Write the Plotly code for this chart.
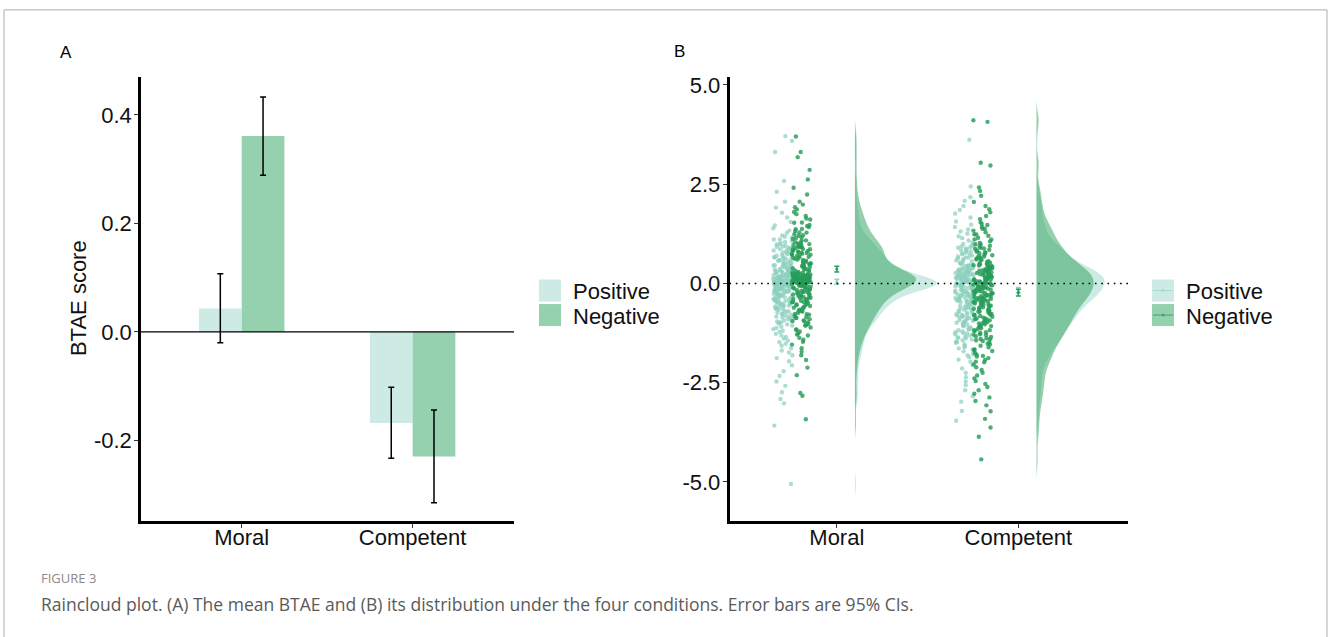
import math
import plotly.graph_objects as go

# ---------------- data ----------------
categories = ["Moral", "Competent"]
conditions = ["Positive", "Negative"]

# Panel A: mean BTAE and 95% CI
pos_mean = [0.043, -0.168]
pos_low = [-0.020, -0.233]
pos_high = [0.107, -0.102]
neg_mean = [0.361, -0.230]
neg_low = [0.289, -0.315]
neg_high = [0.433, -0.144]

a_ticks = [-0.2, 0.0, 0.2, 0.4]
a_ticktext = ["-0.2", "0.0", "0.2", "0.4"]
b_ticks = [-5.0, -2.5, 0.0, 2.5, 5.0]
b_ticktext = ["-5.0", "-2.5", "0.0", "2.5", "5.0"]

# Panel B: individual BTAE scores
moral_pos = [
    -5.05, -3.58, -3.02, -2.91, -2.74, -2.58, -2.47, -2.33, -2.21, -2.06,
    -1.96, -1.88, -1.81, -1.74, -1.69, -1.63, -1.57, -1.52,
    -1.48, -1.44, -1.39, -1.35, -1.31, -1.27, -1.22, -1.19, -1.15, -1.12, -1.09, -1.06, -1.03, -1.01,
    -0.98, -0.96, -0.93, -0.91, -0.88, -0.86, -0.84, -0.81, -0.79, -0.77, -0.74, -0.72, -0.7, -0.67,
    -0.65, -0.63, -0.61, -0.6, -0.58, -0.56, -0.55, -0.53, -0.52, -0.51,
    -0.49, -0.47, -0.46, -0.44, -0.43, -0.41, -0.4, -0.38, -0.37, -0.35, -0.34, -0.32, -0.31, -0.3,
    -0.28, -0.27, -0.26, -0.25, -0.23, -0.22, -0.21, -0.2, -0.19, -0.18, -0.17, -0.16, -0.15, -0.14,
    -0.13, -0.12, -0.11, -0.1, -0.09, -0.09, -0.08, -0.07, -0.06, -0.06, -0.05, -0.04, -0.04, -0.03,
    -0.03, -0.02, -0.02, -0.01, -0.01, 0.0,
    0.0, 0.01, 0.01, 0.02, 0.02, 0.03, 0.03, 0.04, 0.04, 0.05, 0.05, 0.06, 0.07, 0.07, 0.08, 0.09,
    0.1, 0.1, 0.11, 0.12, 0.13, 0.14, 0.15, 0.16, 0.17, 0.18, 0.19, 0.2, 0.21, 0.22, 0.23, 0.25,
    0.26, 0.27, 0.28, 0.3, 0.31, 0.32, 0.34, 0.35, 0.36, 0.38, 0.39, 0.41, 0.42, 0.44, 0.45, 0.46,
    0.48, 0.49,
    0.51, 0.53, 0.55, 0.57, 0.59, 0.61, 0.63, 0.65, 0.67, 0.7, 0.72, 0.74, 0.76, 0.78, 0.8, 0.83,
    0.85, 0.88, 0.9, 0.93, 0.95, 0.98,
    1.02, 1.06, 1.11, 1.16, 1.21, 1.27, 1.33, 1.39, 1.46,
    1.55, 1.66, 1.78, 1.91,
    2.06, 2.31, 2.58, 3.31, 3.59, 3.71,
    -0.985, -0.905, -0.835, -0.765, -0.705, -0.645, -0.585, -0.535, -0.485, -0.445, -0.405, -0.365,
    -0.325, -0.295, -0.265, -0.235, -0.205, -0.175, -0.155, -0.135, -0.115, -0.095, -0.075, -0.055,
    -0.045, -0.035, -0.025, -0.015, -0.005, 0.005, 0.015, 0.025, 0.035, 0.045, 0.055, 0.065, 0.075,
    0.085, 0.095, 0.115, 0.135, 0.155, 0.175, 0.195, 0.215, 0.245, 0.275, 0.305, 0.335, 0.365,
    0.395, 0.425, 0.465, 0.505, 0.545, 0.585, 0.625, 0.665, 0.715, 0.765, 0.815, 0.865, 0.925,
    0.985, 1.045, 1.105, 1.175]
moral_neg = [
    -3.42, -2.83, -2.76, -2.31, -2.12,
    -1.93, -1.81, -1.72, -1.63, -1.54,
    -1.47, -1.42, -1.37, -1.31, -1.26, -1.21, -1.16, -1.11, -1.06, -1.02,
    -0.98, -0.95, -0.93, -0.9, -0.87, -0.85, -0.82, -0.79, -0.77, -0.74, -0.71, -0.69, -0.66, -0.63,
    -0.61, -0.59, -0.57, -0.55, -0.53, -0.51,
    -0.49, -0.47, -0.46, -0.44, -0.42, -0.41, -0.39, -0.37, -0.36, -0.34, -0.32, -0.31, -0.29, -0.28,
    -0.26, -0.25, -0.23, -0.22, -0.2, -0.19, -0.17, -0.16, -0.14, -0.13, -0.11, -0.1, -0.08, -0.07,
    -0.06, -0.05, -0.03, -0.02, -0.01,
    0.0, 0.01, 0.02, 0.03, 0.04, 0.05, 0.06, 0.07, 0.08, 0.09, 0.1, 0.11, 0.12, 0.13, 0.14, 0.15,
    0.16, 0.17, 0.18, 0.19, 0.2, 0.21, 0.22, 0.23, 0.24, 0.25, 0.27, 0.28, 0.29, 0.31, 0.32, 0.33,
    0.35, 0.36, 0.38, 0.39, 0.41, 0.42, 0.44, 0.45, 0.46, 0.48, 0.49,
    0.065, 0.085, 0.105, 0.125, 0.145,
    0.51, 0.52, 0.54, 0.55, 0.57, 0.59, 0.6, 0.62, 0.64, 0.65, 0.67, 0.69, 0.7, 0.72, 0.74, 0.75,
    0.77, 0.79, 0.8, 0.82, 0.84, 0.86, 0.87, 0.89, 0.91, 0.92, 0.94, 0.96, 0.97, 0.99,
    0.165, 0.185, 0.205, 0.225,
    1.01, 1.04, 1.08, 1.12, 1.16, 1.2, 1.24, 1.28, 1.32, 1.37, 1.42, 1.47,
    1.53, 1.61, 1.7, 1.8, 1.92,
    2.06, 2.24, 2.41,
    2.62, 2.86,
    3.18, 3.31, 3.7,
    -1.285, -1.165, -1.055, -0.955, -0.865, -0.775, -0.695, -0.615, -0.545, -0.475, -0.405, -0.345,
    -0.285, -0.225, -0.165, -0.115, -0.065, -0.045, -0.025, -0.005, 0.015, 0.035, 0.055, 0.075,
    0.095, 0.115, 0.135, 0.155, 0.175, 0.195, 0.215, 0.235, 0.255, 0.022, 0.048, 0.072, 0.098,
    0.122, 0.148, 0.172, 0.198, 0.725,
    0.765, 0.815, 0.865, 0.915, 0.965, 1.025, 1.085, 1.145, 1.215, 1.285, 1.365, 1.445, 1.535,
    1.635, 1.745, 1.865, 1.985]
comp_pos = [
    -3.46, -3.21,
    -2.98, -2.84, -2.69, -2.56,
    -2.47, -2.36, -2.25, -2.14, -2.05,
    -1.97, -1.92, -1.86, -1.81, -1.76, -1.71, -1.66, -1.61, -1.57, -1.53,
    -1.48, -1.46, -1.43, -1.41, -1.38, -1.36, -1.33, -1.31, -1.28, -1.26, -1.23, -1.21, -1.18, -1.16,
    -1.13, -1.11, -1.08, -1.06, -1.04, -1.01,
    -0.99, -0.97, -0.96, -0.94, -0.92, -0.91, -0.89, -0.87, -0.86, -0.84, -0.82, -0.81, -0.79, -0.77,
    -0.76, -0.74, -0.72, -0.71, -0.69, -0.67, -0.66, -0.64, -0.62, -0.61, -0.59, -0.57, -0.56, -0.54,
    -0.52, -0.51,
    -0.49, -0.48, -0.47, -0.46, -0.45, -0.44, -0.43, -0.41, -0.4, -0.39, -0.38, -0.37, -0.36, -0.35,
    -0.34, -0.32, -0.31, -0.3, -0.29, -0.28, -0.27, -0.26, -0.25, -0.23, -0.22, -0.21, -0.2, -0.19,
    -0.18, -0.17, -0.16, -0.14, -0.13, -0.12, -0.11, -0.1, -0.09, -0.08, -0.07, -0.06, -0.05, -0.04,
    -0.03, -0.02, -0.01,
    0.0, 0.01, 0.02, 0.03, 0.04, 0.05, 0.06, 0.07, 0.08, 0.09, 0.1, 0.11, 0.12, 0.13, 0.14, 0.15,
    0.16, 0.17, 0.18, 0.19, 0.2, 0.21, 0.22, 0.23, 0.24, 0.25, 0.26, 0.27, 0.28, 0.29, 0.3, 0.31,
    0.32, 0.33, 0.34, 0.35, 0.36, 0.37, 0.38, 0.39, 0.41, 0.42, 0.44, 0.45, 0.47, 0.49,
    0.51, 0.53, 0.56, 0.58, 0.61, 0.63, 0.65, 0.68, 0.7, 0.73, 0.75, 0.78, 0.8, 0.83, 0.85, 0.88,
    0.9, 0.93, 0.95, 0.98,
    1.03, 1.08, 1.14, 1.19, 1.25, 1.31, 1.36, 1.42, 1.48,
    1.56, 1.66, 1.76, 1.85, 1.95,
    2.08, 2.17, 2.44, 3.62,
    -1.785, -1.635, -1.495, -1.365, -1.245, -1.135, -1.035, -0.945, -0.855, -0.775, -0.695, -0.625,
    -0.555, -0.485, -0.425, -0.365, -0.305, -0.255, -0.205, -0.155, -0.115, -0.075, -0.035, 0.005,
    0.045, 0.085, 0.125, 0.165, 0.205, 0.245, 0.295, 0.345, 0.395, 0.455, 0.515, 0.585, 0.655,
    0.735, 0.815, 0.905, 0.995]
comp_neg = [
    -4.43, -3.86, -3.63, -3.41, -3.22, -3.07,
    -2.96, -2.87, -2.78, -2.69, -2.61, -2.53,
    -2.46, -2.39, -2.32, -2.25, -2.18, -2.11, -2.04,
    -1.97, -1.93, -1.88, -1.84, -1.79, -1.75, -1.7, -1.66, -1.61, -1.57, -1.52,
    -1.48, -1.45, -1.43, -1.4, -1.38, -1.35, -1.33, -1.3, -1.28, -1.25, -1.23, -1.2, -1.18, -1.15,
    -1.13, -1.1, -1.08, -1.05, -1.03, -1.01,
    -0.99, -0.97, -0.95, -0.93, -0.91, -0.9, -0.88, -0.86, -0.84, -0.82, -0.8, -0.79, -0.77, -0.75,
    -0.73, -0.71, -0.69, -0.67, -0.66, -0.64, -0.62, -0.6, -0.58, -0.56, -0.55, -0.53, -0.51,
    -0.49, -0.48, -0.47, -0.45, -0.44, -0.43, -0.41, -0.4, -0.39, -0.37, -0.36, -0.35, -0.33, -0.32,
    -0.31, -0.29, -0.28, -0.27, -0.25, -0.24, -0.23, -0.21, -0.2, -0.19, -0.17, -0.16, -0.15, -0.13,
    -0.12, -0.11, -0.09, -0.08, -0.07, -0.05, -0.04, -0.03, -0.02, -0.01,
    0.0, 0.01, 0.02, 0.04, 0.05, 0.06, 0.07, 0.08, 0.1, 0.11, 0.12, 0.13, 0.14, 0.16, 0.17, 0.18,
    0.19, 0.21, 0.22, 0.23, 0.24, 0.26, 0.27, 0.28, 0.29, 0.31, 0.32, 0.33, 0.35, 0.36, 0.37, 0.38,
    0.4, 0.41, 0.42, 0.44, 0.45, 0.46, 0.48, 0.49,
    0.51, 0.54, 0.56, 0.59, 0.61, 0.63, 0.66, 0.68, 0.71, 0.73, 0.76, 0.78, 0.8, 0.83, 0.85, 0.88,
    0.9, 0.93, 0.95, 0.98,
    1.02, 1.06, 1.11, 1.15, 1.2, 1.24, 1.29, 1.33, 1.38, 1.42, 1.47,
    1.54, 1.62, 1.7, 1.79, 1.87, 1.95,
    2.05, 2.21, 2.33, 2.42, 2.97, 3.04, 4.07, 4.11,
    -1.985, -1.825, -1.675, -1.535, -1.405, -1.285, -1.175, -1.075, -0.975, -0.885, -0.795, -0.715,
    -0.635, -0.565, -0.495, -0.425, -0.365, -0.305, -0.245, -0.195, -0.145, -0.095, -0.045, 0.005,
    0.055, 0.105, 0.155, 0.205, 0.265, 0.325, 0.385, 0.455, 0.525, 0.605, 0.685, 0.775, 0.875,
    0.985, 1.105, 1.235, 1.375, 1.495]

# ---------------- styles ----------------
W, H = 1328, 637
FONT = "Liberation Sans, Arial, sans-serif"
CAP_FONT = "Open Sans, sans-serif"
C_POS_BAR = "#cdebe4"
C_NEG_BAR = "#95d1ae"
C_POS_PT = "rgba(140,208,190,0.72)"
C_NEG_PT = "rgba(38,156,88,0.82)"
C_POS_VIO = "rgba(160,218,205,0.55)"
C_NEG_VIO = "rgba(46,160,90,0.5)"
C_POS_MEAN = "#8fd3c1"
C_NEG_MEAN = "#2a9d5c"

# the captured page is offset/compressed slightly in y; compensate
Y_OFF, Y_SCALE = 4.07, 0.9933


def px_x(p):
    return p / W


def px_y(p):
    return 1 - ((p - Y_OFF) / Y_SCALE) / H


def jitter(i, seed):
    # deterministic scatter offset in [-0.5, 0.5)
    v = math.sin((i + 1) * 12.9898 + seed * 78.233) * 43758.5453
    return v - math.floor(v) - 0.5


fig = go.Figure()

# ---------- Panel A: bars ----------
xs = list(range(len(categories)))
for means, lows, highs, col in ((pos_mean, pos_low, pos_high, C_POS_BAR),
                                (neg_mean, neg_low, neg_high, C_NEG_BAR)):
    fig.add_trace(go.Bar(
        x=xs, y=means, marker=dict(color=col, line=dict(width=0)),
        error_y=dict(type="data", symmetric=False,
                     array=[h - m for h, m in zip(highs, means)],
                     arrayminus=[m - l for m, l in zip(means, lows)],
                     color="black", thickness=1.5, width=3),
        xaxis="x", yaxis="y", showlegend=False, hoverinfo="skip"))

# ---------- Panel B: raincloud ----------
# (category index, values, point colour, violin colour, point offset, violin width, bandwidth)
groups = [
    (0, moral_pos, C_POS_PT, C_POS_VIO, -0.297, 0.90, 0.16),
    (0, moral_neg, C_NEG_PT, C_NEG_VIO, -0.196, 0.67, 0.22),
    (1, comp_pos, C_POS_PT, C_POS_VIO, -0.297, 0.75, 0.2),
    (1, comp_neg, C_NEG_PT, C_NEG_VIO, -0.196, 0.63, 0.22),
]
JIT = 0.053
for order in ([0, 2], [1, 3]):
    for gi in order:
        cx, vals, cpt, cvio, off, vw, bw = groups[gi]
        fig.add_trace(go.Violin(
            y=vals, x0=cx + 0.1, side="positive", width=vw, bandwidth=bw,
            fillcolor=cvio, line=dict(width=0), points=False,
            box=dict(visible=False), meanline=dict(visible=False),
            xaxis="x2", yaxis="y2", showlegend=False, hoverinfo="skip"))
for gi, (cx, vals, cpt, cvio, off, vw, bw) in enumerate(groups):
    jx = [cx + off + jitter(i, gi) * 2 * JIT for i in range(len(vals))]
    fig.add_trace(go.Scatter(
        x=jx, y=vals, mode="markers",
        marker=dict(size=4.4, color=cpt, line=dict(width=0)),
        xaxis="x2", yaxis="y2", showlegend=False, hoverinfo="skip"))

# mean + CI in panel B
for means, lows, highs, col in ((pos_mean, pos_low, pos_high, C_POS_MEAN),
                                (neg_mean, neg_low, neg_high, C_NEG_MEAN)):
    fig.add_trace(go.Scatter(
        x=xs, y=means, mode="markers",
        marker=dict(size=3, color=col),
        error_y=dict(type="data", symmetric=False,
                     array=[h - m for h, m in zip(highs, means)],
                     arrayminus=[m - l for m, l in zip(means, lows)],
                     color=col, thickness=1.5, width=2.5),
        xaxis="x2", yaxis="y2", showlegend=False, hoverinfo="skip"))

axis_common = dict(showgrid=False, zeroline=False, showline=True, linecolor="black",
                   linewidth=2.5, ticks="outside", ticklen=4, tickwidth=1,
                   tickcolor="#333", tickfont=dict(family=FONT, size=22, color="#111"))

fig.update_layout(
    width=W, height=H, margin=dict(l=0, r=0, t=0, b=0),
    paper_bgcolor="white", plot_bgcolor="white",
    barmode="group", bargap=0.5, bargroupgap=0, violinmode="overlay",
    xaxis=dict(domain=[px_x(141), px_x(514)], range=[-0.589, 1.593], anchor="y",
               tickvals=xs, ticktext=categories, ticklabelstandoff=-9, **axis_common),
    yaxis=dict(domain=[px_y(521), px_y(77)], range=[-0.349, 0.470], anchor="x",
               tickvals=a_ticks, ticktext=a_ticktext, ticklabelstandoff=-2, **axis_common),
    xaxis2=dict(domain=[px_x(729.5), px_x(1128)], range=[-0.591, 1.604], anchor="y2",
                tickvals=xs, ticktext=categories, ticklabelstandoff=-9, **axis_common),
    yaxis2=dict(domain=[px_y(521), px_y(77)], range=[-5.987, 5.2], anchor="x2",
                tickvals=b_ticks, ticktext=b_ticktext, ticklabelstandoff=-2, **axis_common),
)

shapes = []
shapes.append(dict(type="line", xref="x", yref="y", x0=-0.589, x1=1.593, y0=0, y1=0,
                   line=dict(color="black", width=1.3), layer="above"))
shapes.append(dict(type="line", xref="x2", yref="y2", x0=-0.591, x1=1.604, y0=0, y1=0,
                   line=dict(color="black", width=1.5, dash="1.6px,4.7px"), layer="above"))
# page frame
for x0, y0, x1, y1 in ((4, 10, 1327, 10), (4, 10, 4, 645), (1327, 10, 1327, 645)):
    shapes.append(dict(type="line", xref="paper", yref="paper",
                       x0=px_x(x0), x1=px_x(x1), y0=px_y(y0), y1=px_y(y1),
                       line=dict(color="#bdbdbd", width=1.2)))

# legends
legend_sets = [(539, 571, False), (1152, 1184, True)]
leg_cols = [(C_POS_BAR, "#a6dccf"), (C_NEG_BAR, "#3ba866")]
annotations = []
for lx, tx, with_line in legend_sets:
    for k, (fill, lcol) in enumerate(leg_cols):
        top = 279.5 + 24.5 * k
        shapes.append(dict(type="rect", xref="paper", yref="paper",
                           x0=px_x(lx), x1=px_x(lx + 22), y0=px_y(top + 22), y1=px_y(top),
                           fillcolor=fill, line=dict(width=0)))
        if with_line:
            shapes.append(dict(type="line", xref="paper", yref="paper",
                               x0=px_x(lx + 1), x1=px_x(lx + 21), y0=px_y(top + 11),
                               y1=px_y(top + 11), line=dict(color=lcol, width=1)))
            shapes.append(dict(type="circle", xref="paper", yref="paper",
                               x0=px_x(lx + 9.5), x1=px_x(lx + 12.5), y0=px_y(top + 12.5),
                               y1=px_y(top + 9.5), fillcolor=lcol, line=dict(width=0)))
        annotations.append(dict(text=conditions[k], xref="paper", yref="paper",
                                x=px_x(tx), y=px_y(top + 12), xanchor="left", yanchor="middle",
                                showarrow=False, font=dict(family=FONT, size=22, color="#111")))

annotations += [
    dict(text="A", x=px_x(66), y=px_y(53), xref="paper", yref="paper", showarrow=False,
         xanchor="center", yanchor="middle", font=dict(family=FONT, size=17, color="black")),
    dict(text="B", x=px_x(679), y=px_y(52), xref="paper", yref="paper", showarrow=False,
         xanchor="center", yanchor="middle", font=dict(family=FONT, size=17, color="black")),
    dict(text="BTAE score", x=px_x(78), y=px_y(298), xref="paper", yref="paper",
         showarrow=False, textangle=-90, xanchor="center", yanchor="middle",
         font=dict(family=FONT, size=22, color="#111")),
    dict(text="FIGURE 3", x=px_x(39), y=px_y(578), xref="paper", yref="paper",
         showarrow=False, xanchor="left", yanchor="middle",
         font=dict(family=CAP_FONT, size=13, color="#8a8a8a")),
    dict(text="Raincloud plot. (A) The mean BTAE and (B) its distribution under the four "
              "conditions. Error bars are 95% CIs.",
         x=px_x(39), y=px_y(604), xref="paper", yref="paper", showarrow=False,
         xanchor="left", yanchor="middle",
         font=dict(family=CAP_FONT, size=17.5, color="#5a5a5a")),
]

fig.update_layout(shapes=shapes, annotations=annotations)
fig.write_html("out.html", config={"displayModeBar": False},
               post_script="document.body.style.margin='0';"
                           "document.body.style.overflow='hidden';")
